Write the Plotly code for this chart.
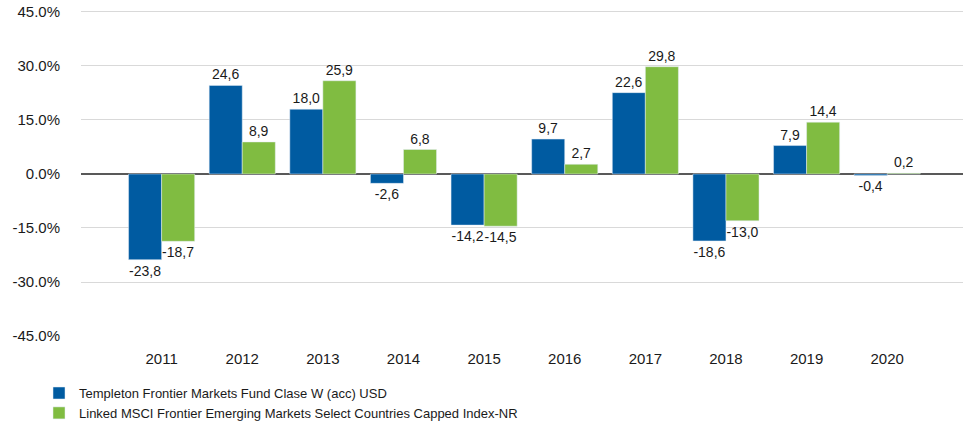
import plotly.graph_objects as go

years = ["2011", "2012", "2013", "2014", "2015", "2016", "2017", "2018", "2019", "2020"]
fund = [-23.8, 24.6, 18.0, -2.6, -14.2, 9.7, 22.6, -18.6, 7.9, -0.4]
index = [-18.7, 8.9, 25.9, 6.8, -14.5, 2.7, 29.8, -13.0, 14.4, 0.2]
fund_name = "Templeton Frontier Markets Fund Clase W (acc) USD"
index_name = "Linked MSCI Frontier Emerging Markets Select Countries Capped Index-NR"
tick_vals = [-45, -30, -15, 0, 15, 30, 45]
tick_text = ["-45.0%", "-30.0%", "-15.0%", "0.0%", "15.0%", "30.0%", "45.0%"]

def fmt(v):
    return f"{v:.1f}".replace(".", ",")

FONT = "Liberation Sans, Arial, sans-serif"
TXT = "#1a1a1a"

fig = go.Figure()
fig.add_trace(go.Bar(
    x=years, y=fund, name=fund_name, marker_color="#005ba1",
    text=[fmt(v) for v in fund], textposition="outside",
    textfont=dict(size=14, color=TXT, family=FONT), cliponaxis=False,
))
fig.add_trace(go.Bar(
    x=years, y=index, name=index_name, marker_color="#80bc41",
    text=[fmt(v) for v in index], textposition="outside",
    textfont=dict(size=14, color=TXT, family=FONT), cliponaxis=False,
))

fig.update_layout(
    width=963, height=430,
    margin=dict(l=81, r=0, t=10, b=94, autoexpand=False),
    barmode="group", bargap=0.18, bargroupgap=0,
    plot_bgcolor="white", paper_bgcolor="white",
    font=dict(family=FONT, size=15, color=TXT),
    showlegend=True,
    hovermode=False,
    legend=dict(
        orientation="v", x=-0.0476, xanchor="left", y=-0.129, yanchor="top",
        font=dict(size=13, color=TXT, family=FONT),
        bgcolor="rgba(0,0,0,0)", tracegroupgap=0,
    ),
)
fig.update_xaxes(
    type="category", range=[-1, 9.94], showgrid=False, showline=False,
    ticks="", ticklabelstandoff=12,
    tickfont=dict(size=15, family=FONT, color=TXT),
)
fig.update_yaxes(
    range=[-45, 45.55], tickvals=tick_vals, ticktext=tick_text,
    showgrid=True, gridcolor="#d9d9d9", gridwidth=1,
    zeroline=True, zerolinecolor="#595959", zerolinewidth=1.5,
    showline=False, ticks="", ticklabelstandoff=20,
    tickfont=dict(size=15, family=FONT, color=TXT),
)
fig.write_html(
    "out.html",
    config={"displayModeBar": False},
    post_script="document.body.style.margin='0';document.body.style.overflow='hidden';",
)
